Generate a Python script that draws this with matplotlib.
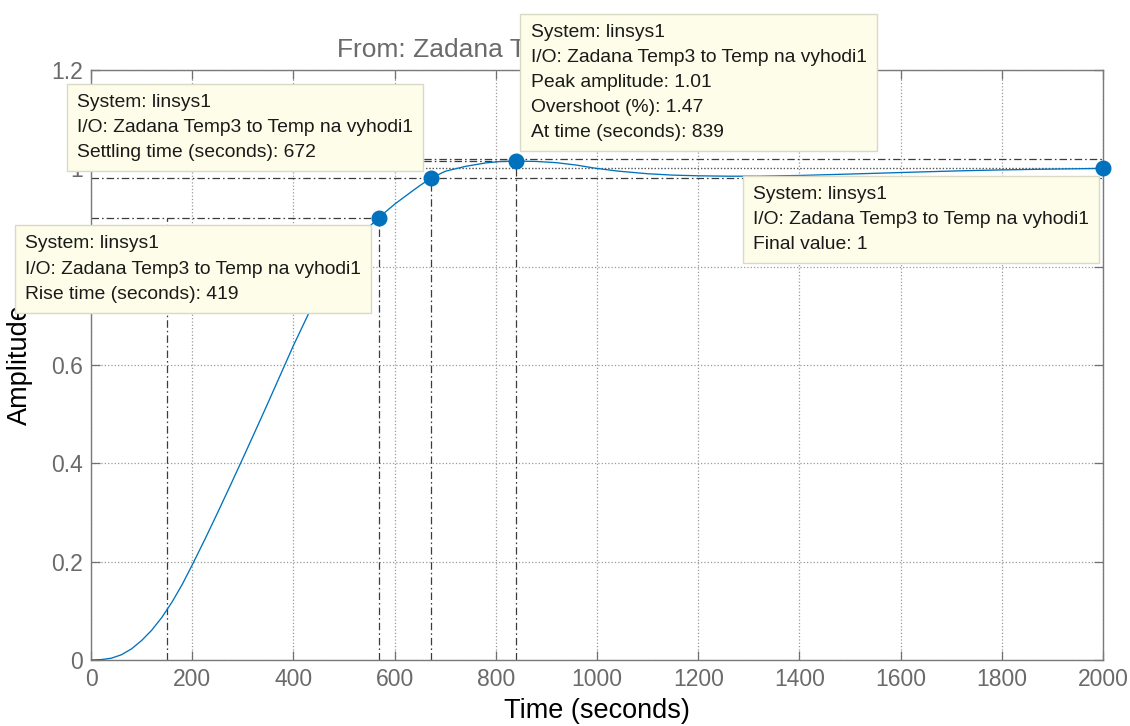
import numpy as np
import matplotlib.pyplot as plt

plt.rcParams['font.family'] = ['Liberation Sans', 'DejaVu Sans']

# step response of linsys1
time_s = [0, 20, 40, 60, 80, 100, 120, 140, 160, 180, 200, 225, 250, 275, 300,
          325, 350, 375, 400, 430, 460, 490, 520, 545, 569, 600, 630, 650,
          672, 700, 740, 780, 810, 839, 880, 920, 960, 995, 1040, 1100, 1150,
          1200, 1260, 1320, 1400, 1480, 1560, 1640, 1720, 1800, 1880, 1960, 2000]
amplitude = [0, 0.0008, 0.0036, 0.0106, 0.0226, 0.0396, 0.0606, 0.0866, 0.1176,
             0.1532, 0.1932, 0.2452, 0.2992, 0.3542, 0.4100, 0.4665, 0.5235,
             0.5815, 0.6395, 0.7045, 0.7595, 0.8085, 0.8475, 0.8765, 0.900,
             0.927, 0.950, 0.965, 0.980, 0.994, 1.004, 1.011, 1.0140, 1.0147,
             1.0140, 1.0115, 1.0065, 1.0005, 0.9945, 0.9890, 0.9862, 0.9848,
             0.9840, 0.9840, 0.9855, 0.9878, 0.9902, 0.9927, 0.9950, 0.9968,
             0.9982, 0.9993, 1.0]

rise_t10 = 150
rise_t90 = 569
rise_level = 0.9
settle_time = 672
settle_low = 0.98
settle_high = 1.02
peak_time = 839
peak_amp = 1.0147
final_time = 2000
final_value = 1.0

x_ticks = list(range(0, 2001, 200))
y_ticks = [0, 0.2, 0.4, 0.6, 0.8, 1.0, 1.2]
y_tick_labels = ['0', '0.2', '0.4', '0.6', '0.8', '1', '1.2']

tip_settle = "System: linsys1\nI/O: Zadana Temp3 to Temp na vyhodi1\nSettling time (seconds): 672"
tip_rise = "System: linsys1\nI/O: Zadana Temp3 to Temp na vyhodi1\nRise time (seconds): 419"
tip_peak = ("System: linsys1\nI/O: Zadana Temp3 to Temp na vyhodi1\nPeak amplitude: 1.01\n"
            "Overshoot (%): 1.47\nAt time (seconds): 839")
tip_final = "System: linsys1\nI/O: Zadana Temp3 to Temp na vyhodi1\nFinal value: 1"

blue = '#0072BD'
dark = '#3c3c3c'
dashdot = (0, (6, 2.4, 1.3, 2.4))

fig = plt.figure(figsize=(11.3, 7.26), dpi=100)
ax = fig.add_axes([91 / 1130, 66 / 726, 1012 / 1130, 590 / 726])

ax.set_xlim(0, 2000)
ax.set_ylim(0, 1.2)
ax.set_xticks(x_ticks)
ax.set_yticks(y_ticks)
ax.set_yticklabels(y_tick_labels)
ax.grid(True, color='#9a9a9a', linestyle=':', linewidth=0.9)
ax.set_axisbelow(True)
ax.tick_params(direction='in', length=6.5, width=0.9, color='#707070',
               labelcolor='#6a6a6a', labelsize=16.5, top=True, right=True, pad=6)
for sp in ax.spines.values():
    sp.set_color('#7a7a7a')
    sp.set_linewidth(1.0)

# characteristic guide lines
lw = 0.9
ax.plot([0, rise_t90], [rise_level, rise_level], color=dark, lw=lw, ls=dashdot)
ax.plot([rise_t10, rise_t10], [0, rise_level], color=dark, lw=lw, ls=dashdot)
ax.plot([rise_t90, rise_t90], [0, rise_level], color=dark, lw=lw, ls=dashdot)
ax.plot([0, final_time], [settle_low, settle_low], color=dark, lw=lw, ls=dashdot)
ax.plot([0, final_time], [settle_high, settle_high], color=dark, lw=lw, ls=dashdot)
ax.plot([settle_time, settle_time], [0, settle_low], color=dark, lw=lw, ls=dashdot)
ax.plot([0, peak_time], [peak_amp, peak_amp], color=dark, lw=lw, ls=dashdot)
ax.plot([peak_time, peak_time], [0, peak_amp], color=dark, lw=lw, ls=dashdot)
ax.plot([0, final_time], [final_value, final_value], color='#555555', lw=lw, ls=':')

ax.plot(time_s, amplitude, color=blue, lw=0.95, zorder=4)

pts_x = [rise_t90, settle_time, peak_time, final_time]
pts_y = [rise_level, settle_low, peak_amp, final_value]
ax.plot(pts_x, pts_y, 'o', color=blue, markersize=10.5, zorder=5, clip_on=False)

ax.text(0.243, 1.022, "From: Zadana Temp3  To: Temp na vyhodi1", transform=ax.transAxes,
        ha='left', va='baseline', fontsize=19, color='#6a6a6a', zorder=3)

ax.set_xlabel("Time (seconds)", fontsize=19.5, color='black')
ax.set_ylabel("Amplitude", fontsize=19.5, color='black')
ax.xaxis.set_label_coords(0.5, -0.064)
ax.yaxis.set_label_coords(-0.057, 0.5)

box = dict(boxstyle='square,pad=0.52', facecolor='#fdfde9', edgecolor='#d9d9c6', linewidth=1.0)
tips = [
    ((settle_time, settle_low), tip_settle, (-18, 17), 'right', 'bottom'),
    ((rise_t90, rise_level), tip_rise, (-18, -18), 'right', 'top'),
    ((peak_time, peak_amp), tip_peak, (15, 20), 'left', 'bottom'),
    ((final_time, final_value), tip_final, (-14, -18), 'right', 'top'),
]
for xy, txt, off, ha, va in tips:
    ax.annotate(txt, xy=xy, xytext=off, textcoords='offset pixels', ha=ha, va=va,
                multialignment='left', fontsize=13.9, linespacing=1.62,
                color='#1a1a1a', bbox=box, annotation_clip=False, zorder=10)

fig.savefig('out.png', dpi=100)
